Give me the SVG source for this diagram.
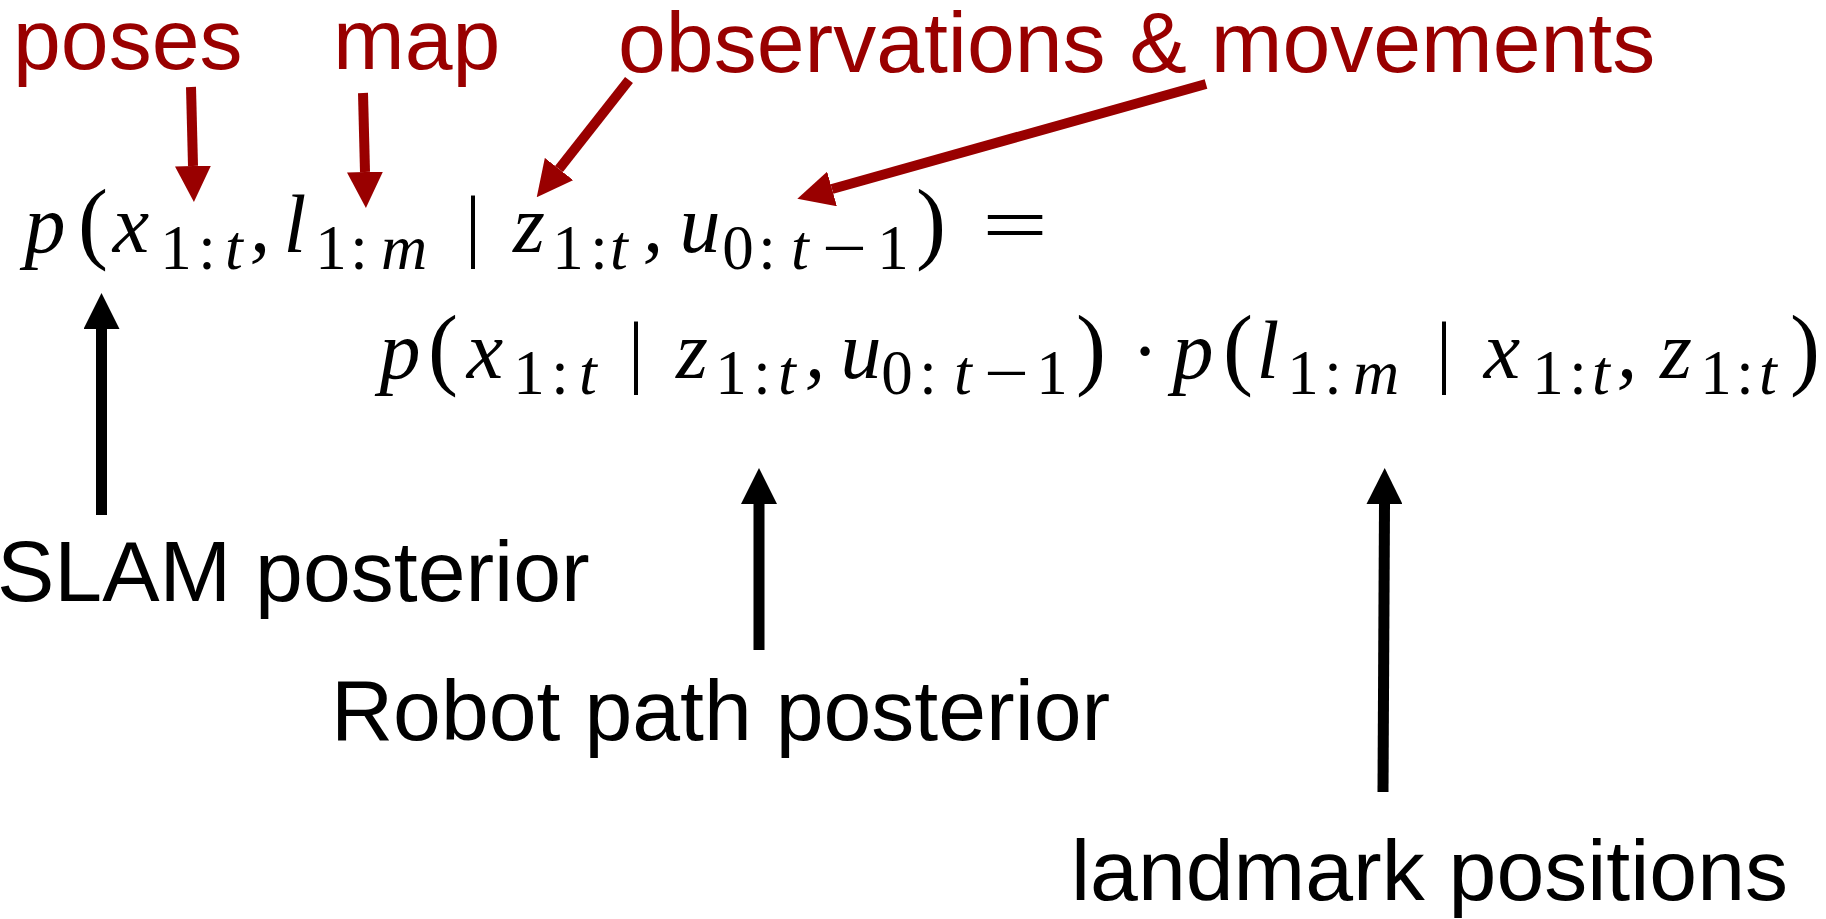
<svg xmlns="http://www.w3.org/2000/svg" width="1826" height="919" viewBox="0 0 1826 919">
<style>
.lbl{font-family:"Liberation Sans",Arial,sans-serif;font-size:86px}
.red{fill:#990000}
.blk{fill:#000}
.m{font-family:"Liberation Serif","Times New Roman",serif;fill:#000;text-anchor:middle}
.it{font-style:italic;font-size:82px}
.si{font-style:italic;font-size:64px}
.sd{font-size:63px}
.pa{font-size:90px}
.bar{font-size:80px}
.rm{font-size:80px}
.ra{stroke:#990000;stroke-width:10;fill:none}
.ba{stroke:#000;stroke-width:11;fill:none}
</style>
<defs>
<marker id="hr" markerUnits="userSpaceOnUse" viewBox="0 -18 36 36" refX="0" refY="0" markerWidth="36" markerHeight="36" orient="auto">
<path d="M0,-18 L36,0 L0,18 Z" fill="#990000"/>
</marker>
<marker id="hb" markerUnits="userSpaceOnUse" viewBox="0 -18 36 36" refX="0" refY="0" markerWidth="36" markerHeight="36" orient="auto">
<path d="M0,-18 L36,0 L0,18 Z" fill="#000"/>
</marker>
</defs>
<rect width="1826" height="919" fill="#fff"/>

<g id="label-poses"><text class="lbl red" x="13" y="69">poses</text></g>
<g id="label-map"><text class="lbl red" x="333" y="69">map</text></g>
<g id="label-obs"><text class="lbl red" x="618" y="72">observations &amp; movements</text></g>

<g id="eq-line1">
<text y="252">
<tspan class="m it" x="47">p</tspan>
<tspan class="m pa" x="95">(</tspan>
<tspan class="m it" x="133">x</tspan>
<tspan class="m sd" x="178" y="269">1</tspan>
<tspan class="m sd" x="209" y="269">:</tspan>
<tspan class="m si" x="236" y="269">t</tspan>
<tspan class="m it" x="262" y="252">,</tspan>
<tspan class="m it" x="297">l</tspan>
<tspan class="m sd" x="333" y="269">1</tspan>
<tspan class="m sd" x="361" y="269">:</tspan>
<tspan class="m si" x="406" y="269">m</tspan>
<tspan class="m bar" x="475" y="252">|</tspan>
<tspan class="m it" x="531">z</tspan>
<tspan class="m sd" x="570" y="269">1</tspan>
<tspan class="m sd" x="601" y="269">:</tspan>
<tspan class="m si" x="621" y="269">t</tspan>
<tspan class="m it" x="655" y="252">,</tspan>
<tspan class="m it" x="702">u</tspan>
<tspan class="m sd" x="740" y="269">0</tspan>
<tspan class="m sd" x="769" y="269">:</tspan>
<tspan class="m si" x="800" y="269">t</tspan>
</text>
<text class="m sd" x="822" y="269" textLength="45" lengthAdjust="spacingAndGlyphs" style="text-anchor:start">−</text>
<text class="m sd" x="893" y="269">1</text>
<text class="m pa" x="931" y="252">)</text>
<text class="m rm" x="982" y="252" textLength="66" lengthAdjust="spacingAndGlyphs" style="text-anchor:start">=</text>
</g>

<g id="eq-line2">
<text y="378">
<tspan class="m it" x="402">p</tspan>
<tspan class="m pa" x="445">(</tspan>
<tspan class="m it" x="487">x</tspan>
<tspan class="m sd" x="531" y="394">1</tspan>
<tspan class="m sd" x="562" y="394">:</tspan>
<tspan class="m si" x="590" y="394">t</tspan>
<tspan class="m bar" x="638" y="378">|</tspan>
<tspan class="m it" x="694">z</tspan>
<tspan class="m sd" x="733" y="394">1</tspan>
<tspan class="m sd" x="764" y="394">:</tspan>
<tspan class="m si" x="789" y="394">t</tspan>
<tspan class="m it" x="817" y="378">,</tspan>
<tspan class="m it" x="863">u</tspan>
<tspan class="m sd" x="899" y="394">0</tspan>
<tspan class="m sd" x="930" y="394">:</tspan>
<tspan class="m si" x="963" y="394">t</tspan>
</text>
<text class="m sd" x="984" y="394" textLength="45" lengthAdjust="spacingAndGlyphs" style="text-anchor:start">−</text>
<text y="378">
<tspan class="m sd" x="1054" y="394">1</tspan>
<tspan class="m pa" x="1093" y="378">)</tspan>
<tspan class="m rm" x="1147" y="378">·</tspan>
<tspan class="m it" x="1195">p</tspan>
<tspan class="m pa" x="1240">(</tspan>
<tspan class="m it" x="1270">l</tspan>
<tspan class="m sd" x="1305" y="394">1</tspan>
<tspan class="m sd" x="1335" y="394">:</tspan>
<tspan class="m si" x="1378" y="394">m</tspan>
<tspan class="m bar" x="1446" y="378">|</tspan>
<tspan class="m it" x="1504">x</tspan>
<tspan class="m sd" x="1550" y="394">1</tspan>
<tspan class="m sd" x="1580" y="394">:</tspan>
<tspan class="m si" x="1603" y="394">t</tspan>
<tspan class="m it" x="1629" y="378">,</tspan>
<tspan class="m it" x="1678">z</tspan>
<tspan class="m sd" x="1718" y="394">1</tspan>
<tspan class="m sd" x="1747" y="394">:</tspan>
<tspan class="m si" x="1770" y="394">t</tspan>
<tspan class="m pa" x="1805" y="378">)</tspan>
</text>
</g>

<g id="label-slam"><text class="lbl blk" x="-3" y="601">SLAM posterior</text></g>
<g id="label-robot"><text class="lbl blk" x="331" y="740">Robot path posterior</text></g>
<g id="label-landmark"><text class="lbl blk" x="1071" y="900">landmark positions</text></g>

<g id="connectors">
<line class="ra" x1="191" y1="87" x2="193" y2="166" marker-end="url(#hr)"/>
<line class="ra" x1="363" y1="93" x2="365" y2="172" marker-end="url(#hr)"/>
<line class="ra" x1="629" y1="80" x2="559" y2="169" marker-end="url(#hr)"/>
<line class="ra" x1="1206" y1="84" x2="832" y2="189" marker-end="url(#hr)"/>
<line class="ba" x1="101.5" y1="515" x2="101.5" y2="329" marker-end="url(#hb)"/>
<line class="ba" x1="759" y1="650" x2="759" y2="504" marker-end="url(#hb)"/>
<line class="ba" x1="1383" y1="792" x2="1384.5" y2="504" marker-end="url(#hb)"/>
</g>
</svg>
